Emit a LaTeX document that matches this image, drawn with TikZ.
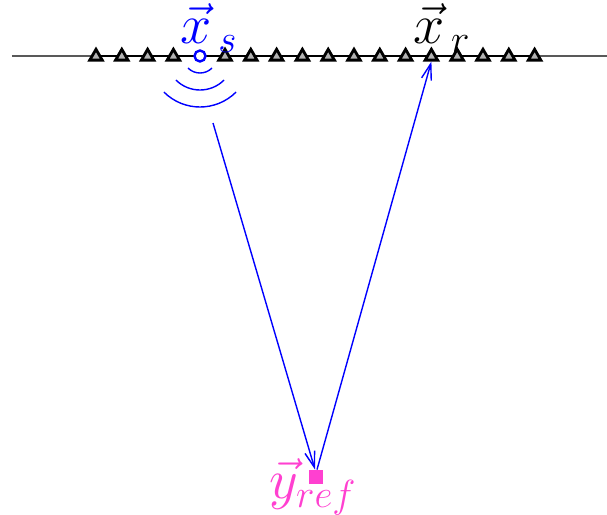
\documentclass[tikz,border=0pt]{standalone}
\usepackage{fix-cm}
\usepackage{tikz}
\usetikzlibrary{shapes.geometric,arrows.meta}
\definecolor{reflpink}{RGB}{255,64,208}
\tikzset{
  rcv/.style={regular polygon, regular polygon sides=3, draw=black, fill=gray!60,
    line width=1.4pt, inner sep=0pt, minimum size=7.2pt},
  ray/.style={blue, line width=0.7pt, -{Straight Barb[length=8pt,width=5pt]}},
  lab/.style={font=\fontsize{28}{33}\selectfont},
}
\begin{document}
\begin{tikzpicture}[x=0.5pt,y=-0.5pt]
\useasboundingbox (0,0) rectangle (607,515);

% Parametry
\def\yline{56}
\def\dx{25.8}

% ---------- powierzchnia ----------
\draw[gray!70!black, line width=0.7pt] (12,\yline) -- (607,\yline);
\draw[black, line width=0.7pt] (96,\yline) -- (535,\yline);

% ---------- odbiorniki ----------
\foreach \i in {1,...,18} {
  \ifnum\i=5 \else
    \node[rcv] (rcv\i) at ({96+(\i-1)*\dx}, \yline+0.5) {};
  \fi
}

% ---------- zrodlo ----------
\node[circle, draw=blue, fill=white, line width=1.2pt, inner sep=0pt, minimum size=5.5pt] (src) at (200,\yline) {};
\foreach \r in {17,34,51}
  \draw[blue, line width=0.7pt] ([shift={(135:\r)}]src.center) arc[start angle=135, end angle=45, radius=\r];

% ---------- etykiety ----------
\node[blue, lab] (srclab) at (209,28) {$\vec{x}_{\,s}$};
\node[black, lab] (rcvlab) at (442,28) {$\vec{x}_{\,r}$};

% ---------- punkt odbicia ----------
\node[fill=reflpink, inner sep=0pt, minimum size=7pt] (refl) at (316,477) {};
\node[reflpink, lab] (refllab) at (313,487) {$\vec{y}_{ref}$};

% ---------- promienie ----------
\coordinate (raystart) at (213,123);
\draw[ray] (raystart) -- ([xshift=-0.5pt]refl.north);
\draw[ray] ([xshift=0.5pt]refl.north) -- (rcv14.south);

\end{tikzpicture}
\end{document}
